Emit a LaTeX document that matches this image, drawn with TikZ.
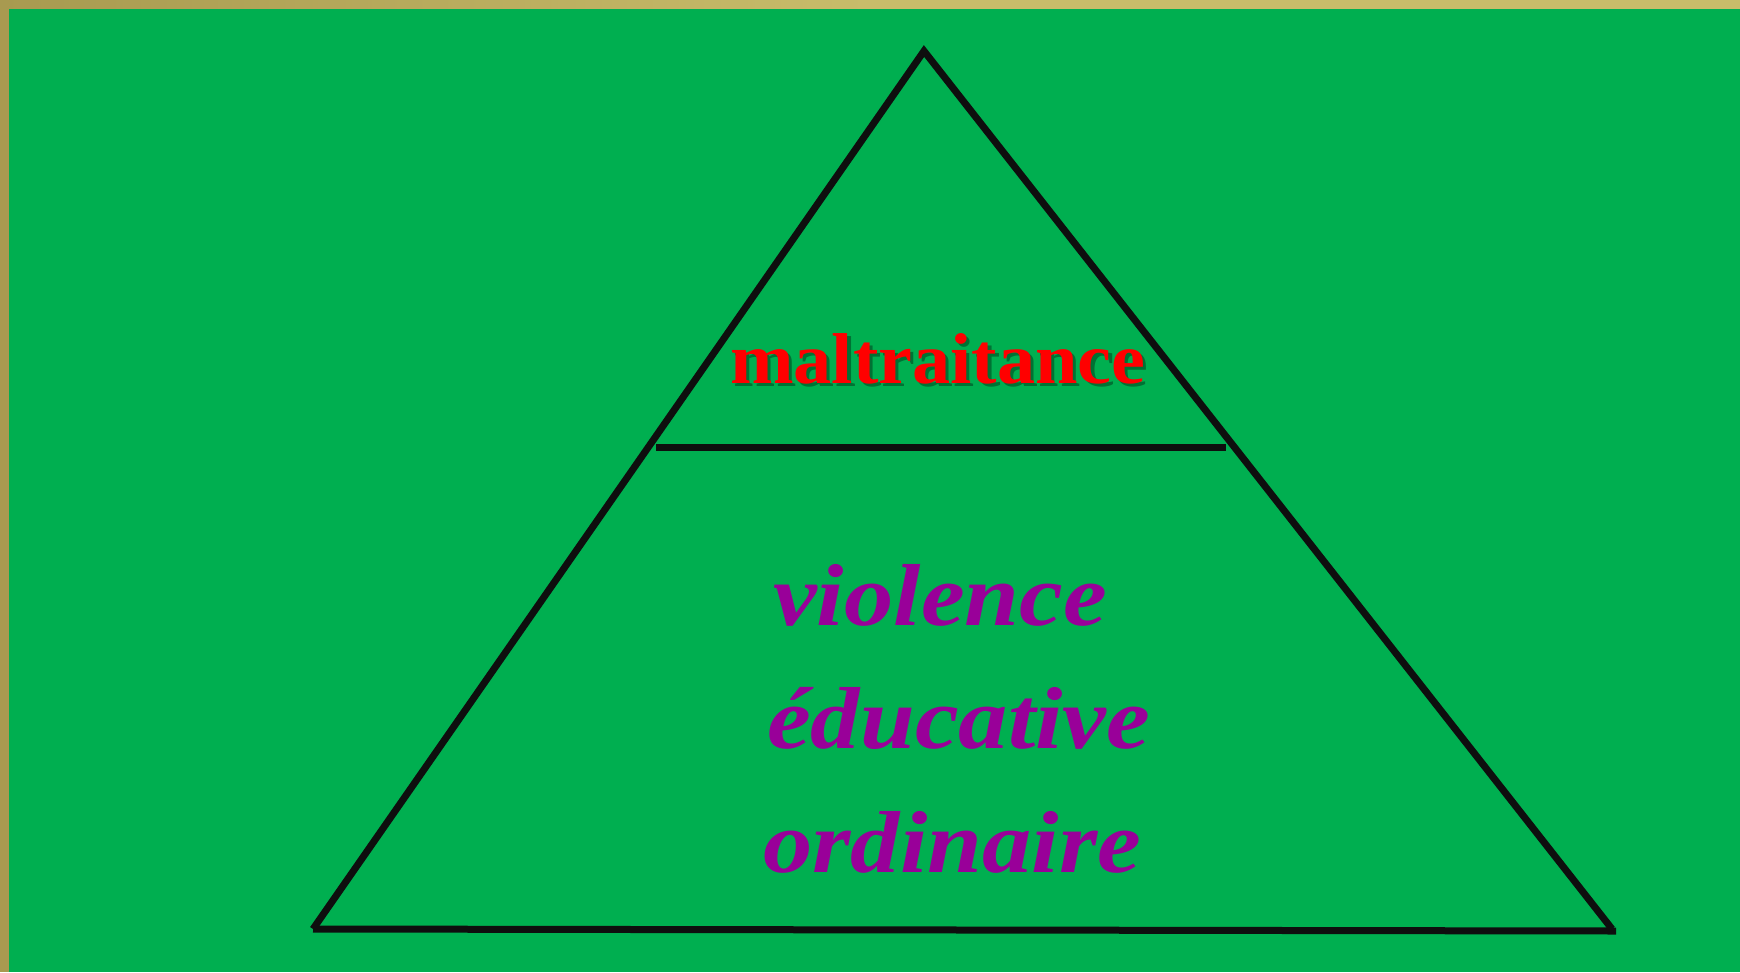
\documentclass[tikz,border=0pt]{standalone}
\usepackage{fontspec}
\setmainfont{Liberation Serif}
\definecolor{bggreen}{HTML}{00AF50}
\definecolor{goldA}{HTML}{A89A50}
\definecolor{goldB}{HTML}{C8BC6A}
\definecolor{vpurple}{HTML}{990099}
\definecolor{lineblack}{HTML}{0E0E0E}
\colorlet{shadowcol}{bggreen!65!black}
\newcommand{\shadowtext}[1]{\makebox[0pt][l]{\hspace{3pt}\raisebox{-3pt}{\textcolor{shadowcol}{#1}}}#1}
\begin{document}
\begin{tikzpicture}[x=1pt,y=-1pt,
  edge/.style={draw=lineblack,line width=7pt},
  redtxt/.style={anchor=base west,inner sep=0pt,font=\fontsize{72}{80}\selectfont\bfseries,text=red,xscale=1.06},
  purptxt/.style={anchor=base west,inner sep=0pt,font=\fontsize{88}{100}\selectfont\bfseries\itshape,text=vpurple,xscale=1.12}]
\useasboundingbox (0,0) rectangle (1740,972);
\shade[left color=goldA,right color=goldB,middle color=goldB] (0,0) rectangle (1740,9);
\fill[goldA] (0,0) rectangle (9,972);
\fill[bggreen] (9,9) rectangle (1740,972);
% triangle corners
\coordinate (apex) at (924,51);
\coordinate (bl) at (313,929);
\coordinate (br) at (1612,929);
\coordinate (brend) at (1616,931);
\coordinate (hl) at (656,447);
\coordinate (hr) at (1226,447);
\draw[edge] (bl) -- (apex) -- (br);
\draw[edge] (bl) -- (brend);
\draw[edge] (hl) -- (hr);
% texts
\node[redtxt] (malt) at (730,383) {\shadowtext{maltraitance}};
\node[purptxt] (viol) at (773,625) {violence};
\node[purptxt] (educ) at (767,748) {éducative};
\node[purptxt] (ordi) at (763,872) {ordinaire};
\end{tikzpicture}
\end{document}
